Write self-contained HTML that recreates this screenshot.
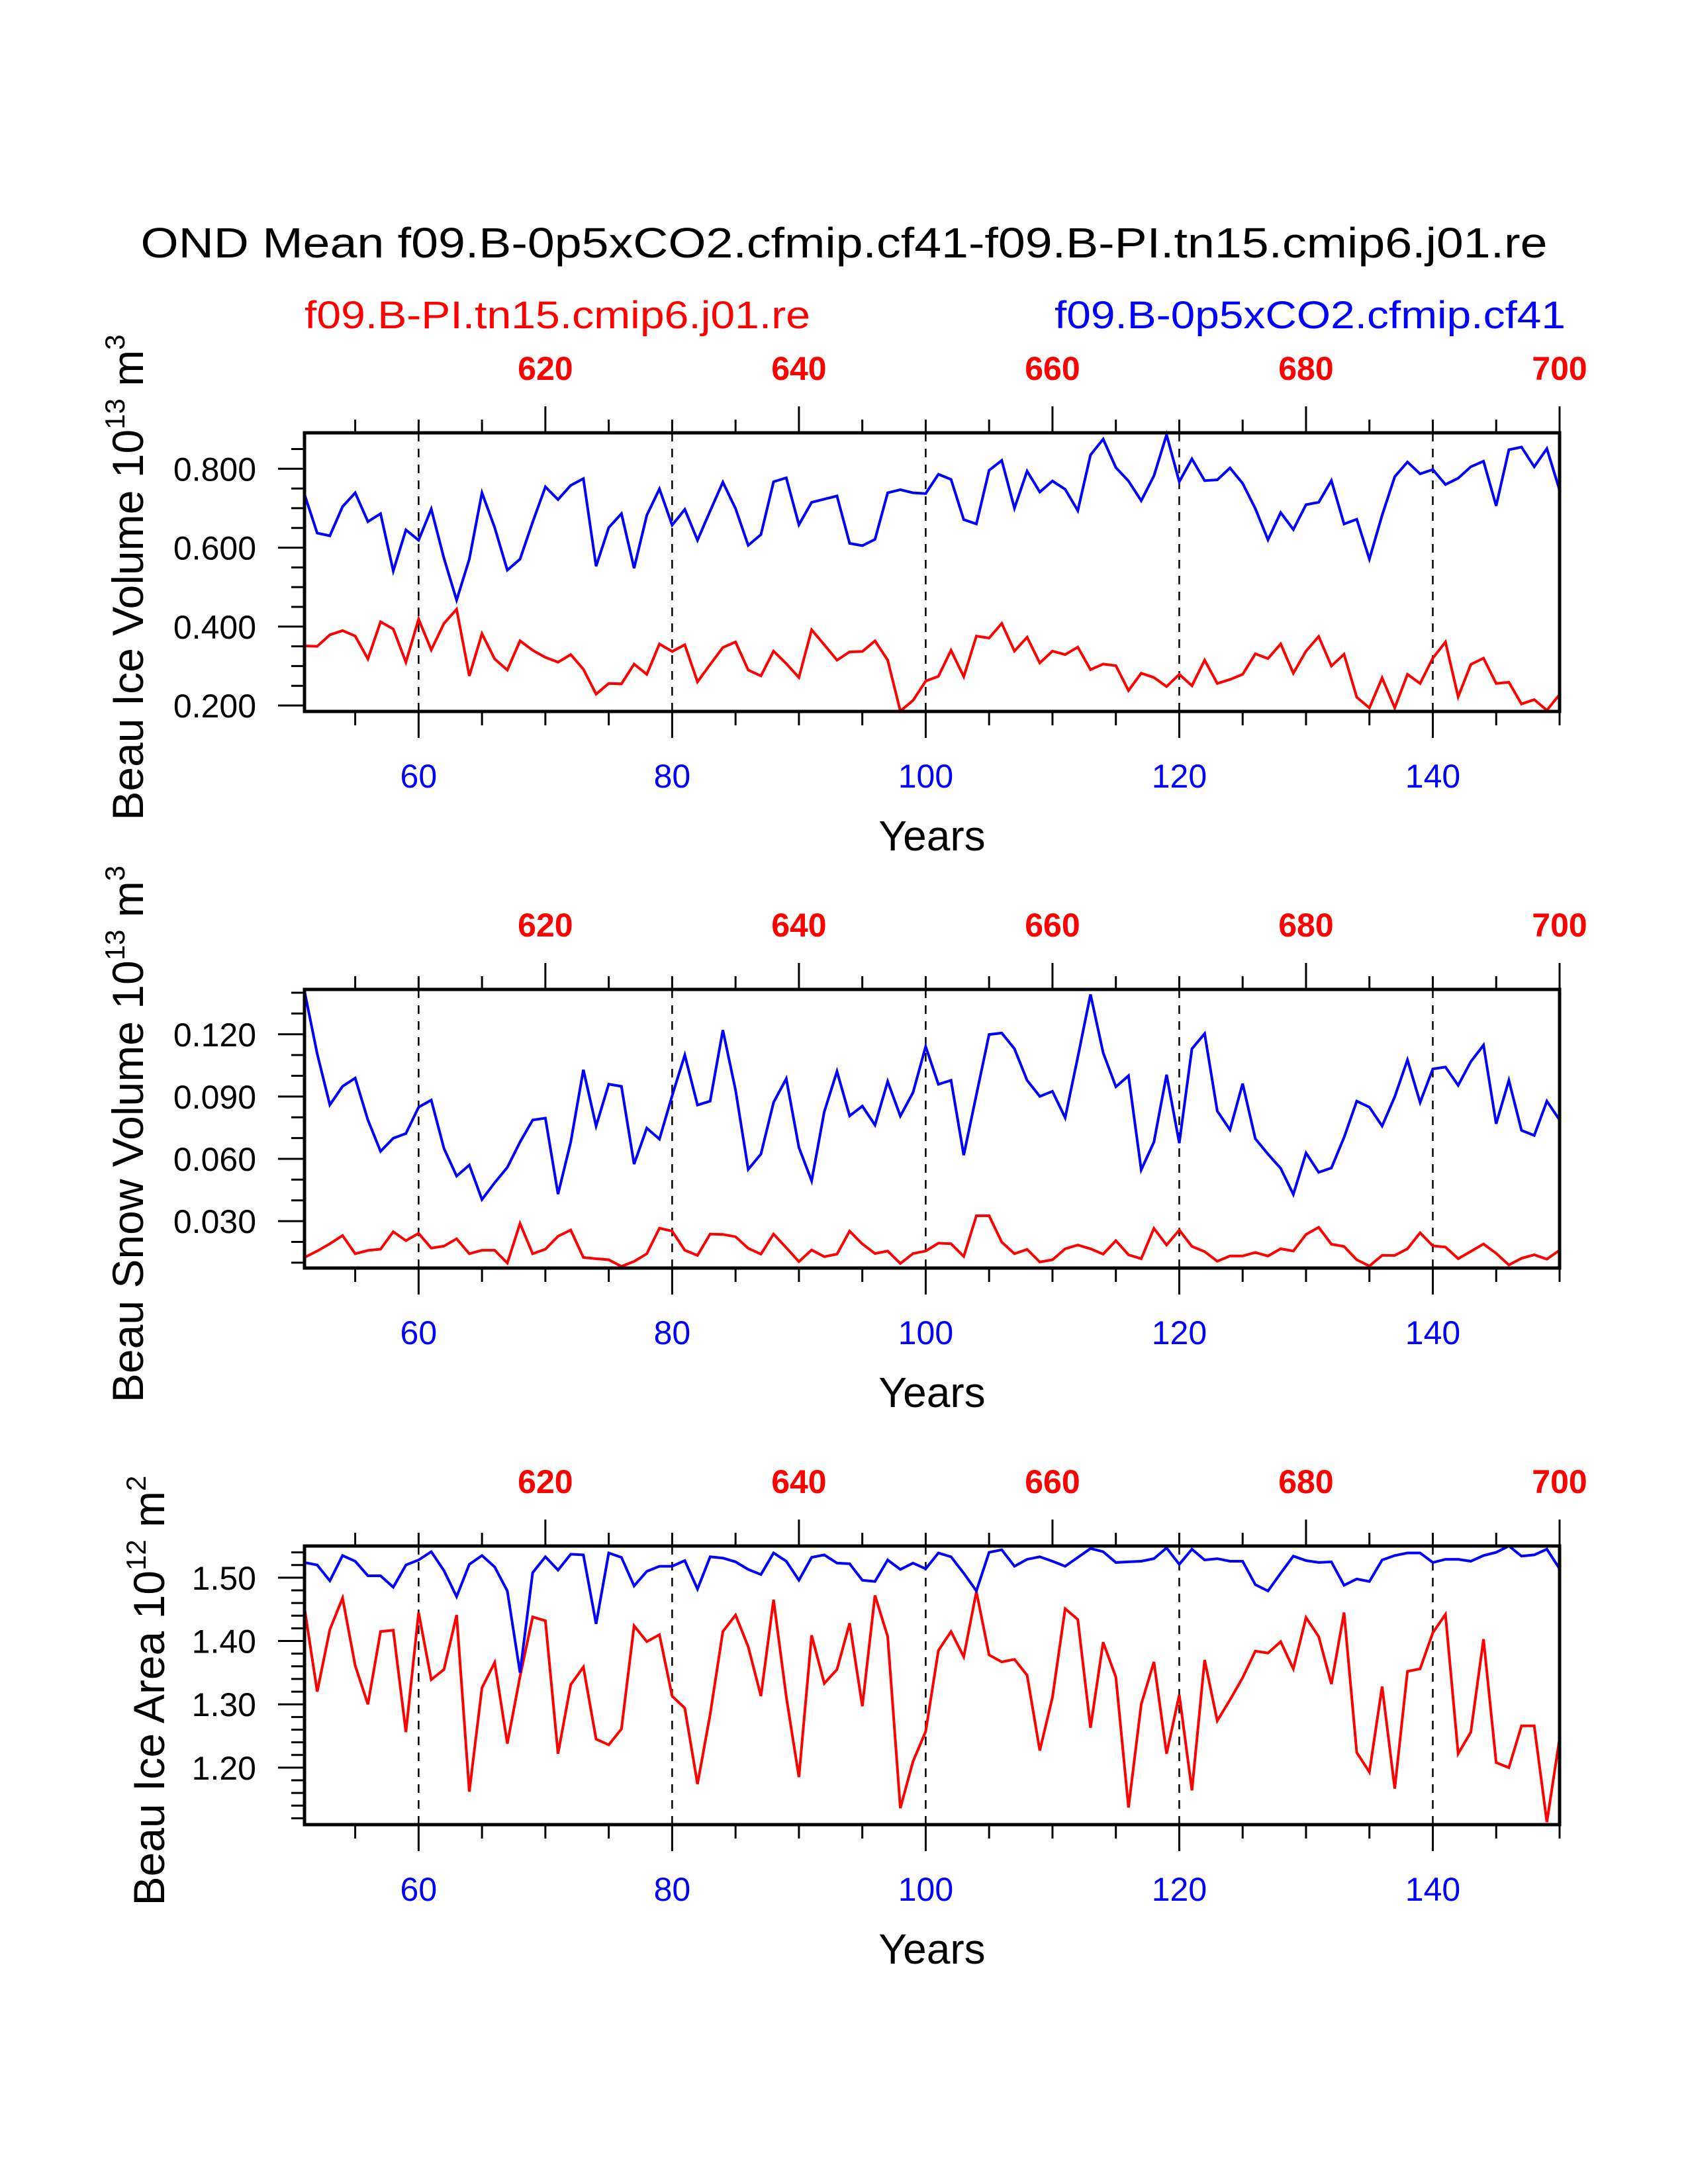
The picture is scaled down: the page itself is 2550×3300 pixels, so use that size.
<!DOCTYPE html>
<html><head><meta charset="utf-8"><style>
html,body{margin:0;padding:0;background:#fff;}
svg{display:block;font-family:"Liberation Sans",Arial,sans-serif;}
</style></head><body>
<svg id="chart" width="2550" height="3300" viewBox="0 0 2550 3300" xmlns="http://www.w3.org/2000/svg">
<rect width="2550" height="3300" fill="#fff"/>
<text x="1275" y="389" font-size="64" text-anchor="middle" textLength="2125" lengthAdjust="spacingAndGlyphs">OND Mean f09.B-0p5xCO2.cfmip.cf41-f09.B-PI.tn15.cmip6.j01.re</text>
<text x="460" y="496" font-size="58" fill="#ff0000" textLength="764" lengthAdjust="spacingAndGlyphs">f09.B-PI.tn15.cmip6.j01.re</text>
<text x="2365" y="496" font-size="58" fill="#0000ff" text-anchor="end" textLength="772" lengthAdjust="spacingAndGlyphs">f09.B-0p5xCO2.cfmip.cf41</text>
<g id="panels"></g>
</svg>
<script>
const years = [];
for (let y = 51; y <= 150; y++) years.push(y);
const bottomTickLabels = ["60","80","100","120","140"];
const topTickLabels = ["620","640","660","680","700"];

const iceVolBlue = [0.735,0.637,0.630,0.704,0.739,0.666,0.686,0.541,0.645,0.619,0.698,0.573,0.467,0.571,0.739,0.651,0.543,0.571,0.665,0.754,0.722,0.758,0.775,0.553,0.651,0.686,0.548,0.682,0.749,0.657,0.697,0.619,0.693,0.766,0.699,0.606,0.633,0.767,0.777,0.658,0.715,0.723,0.731,0.611,0.605,0.621,0.739,0.747,0.739,0.737,
0.786,0.773,0.671,0.660,0.796,0.821,0.700,0.794,0.741,0.769,0.748,0.694,0.835,0.875,0.803,0.769,0.719,0.782,0.886,0.767,0.825,0.770,0.772,0.802,0.763,0.699,0.620,0.689,0.646,0.709,0.715,0.770,0.660,0.672,0.571,0.682,0.780,0.817,0.787,0.798,0.760,0.776,0.805,0.819,0.706,0.848,0.855,0.805,0.851,0.746];
const iceVolRed = [0.351,0.350,0.379,0.390,0.376,0.318,0.412,0.394,0.310,0.419,0.341,0.408,0.444,0.275,0.382,0.318,0.290,0.364,0.340,0.322,0.310,0.329,0.292,0.229,0.256,0.255,0.305,0.279,0.356,0.337,0.354,0.260,0.304,0.347,0.361,0.290,0.275,0.338,0.306,0.271,0.392,0.354,0.315,0.336,0.337,0.364,0.315,0.186,0.213,0.262,
0.274,0.340,0.273,0.376,0.371,0.408,0.338,0.373,0.308,0.338,0.329,0.348,0.291,0.305,0.301,0.238,0.282,0.271,0.248,0.279,0.250,0.315,0.256,0.266,0.279,0.331,0.319,0.356,0.282,0.338,0.375,0.300,0.330,0.221,0.194,0.270,0.194,0.279,0.256,0.320,0.361,0.222,0.304,0.320,0.256,0.259,0.204,0.215,0.188,0.228];
const snowBlue = [0.1408,0.1106,0.0860,0.0949,0.0989,0.0787,0.0636,0.0699,0.0722,0.0849,0.0883,0.0650,0.0517,0.0570,0.0404,0.0485,0.0559,0.0681,0.0787,0.0796,0.0430,0.0681,0.1029,0.0758,0.0960,0.0949,0.0575,0.0748,0.0695,0.0904,0.1100,0.0859,0.0878,0.1220,0.0931,0.0549,0.0623,0.0872,0.0986,0.0655,0.0494,0.0827,0.1021,0.0807,0.0854,0.0763,0.0973,0.0806,0.0920,0.1141,
0.0959,0.0978,0.0618,0.0909,0.1199,0.1206,0.1130,0.0978,0.0901,0.0925,0.0798,0.1090,0.1392,0.1111,0.0947,0.1000,0.0547,0.0681,0.1005,0.0676,0.1130,0.1203,0.0830,0.0740,0.0962,0.0697,0.0623,0.0554,0.0429,0.0628,0.0535,0.0556,0.0703,0.0878,0.0849,0.0758,0.0899,0.1077,0.0872,0.1033,0.1042,0.0954,0.1068,0.1148,0.0769,0.0978,0.0737,0.0713,0.0878,0.0787];
const snowRed = [0.0125,0.0156,0.0191,0.0231,0.0143,0.0159,0.0165,0.0249,0.0206,0.0241,0.0170,0.0180,0.0215,0.0143,0.0160,0.0160,0.0098,0.0289,0.0143,0.0165,0.0227,0.0257,0.0125,0.0119,0.0114,0.0082,0.0106,0.0143,0.0266,0.0252,0.0160,0.0135,0.0238,0.0236,0.0225,0.0169,0.0141,0.0238,0.0172,0.0105,0.0161,0.0129,0.0141,0.0252,0.0190,0.0144,0.0156,0.0096,0.0144,0.0156,
0.0194,0.0191,0.0130,0.0326,0.0326,0.0199,0.0143,0.0164,0.0103,0.0114,0.0167,0.0185,0.0167,0.0141,0.0206,0.0138,0.0119,0.0265,0.0185,0.0257,0.0178,0.0153,0.0107,0.0132,0.0132,0.0149,0.0132,0.0167,0.0156,0.0236,0.0270,0.0189,0.0178,0.0114,0.0084,0.0135,0.0135,0.0167,0.0244,0.0181,0.0175,0.0119,0.0154,0.0190,0.0145,0.0089,0.0121,0.0138,0.0117,0.0160];
const areaBlue = [1.524,1.520,1.495,1.535,1.526,1.503,1.503,1.485,1.520,1.528,1.541,1.511,1.470,1.521,1.535,1.517,1.479,1.350,1.508,1.533,1.512,1.537,1.536,1.427,1.539,1.532,1.487,1.510,1.518,1.518,1.527,1.482,1.533,1.531,1.525,1.513,1.505,1.539,1.526,1.496,1.532,1.536,1.523,1.522,1.496,1.494,1.528,1.513,1.523,1.514,
1.539,1.533,1.507,1.479,1.540,1.544,1.518,1.529,1.533,1.526,1.518,1.532,1.546,1.541,1.524,1.525,1.526,1.530,1.547,1.521,1.545,1.528,1.530,1.526,1.526,1.489,1.479,1.507,1.534,1.527,1.524,1.525,1.488,1.498,1.494,1.528,1.535,1.539,1.539,1.524,1.529,1.529,1.526,1.535,1.540,1.550,1.534,1.536,1.545,1.514];
const areaRed = [1.452,1.320,1.418,1.468,1.361,1.300,1.415,1.417,1.256,1.445,1.339,1.355,1.441,1.162,1.326,1.366,1.238,1.344,1.438,1.432,1.222,1.331,1.359,1.245,1.236,1.261,1.424,1.399,1.410,1.313,1.294,1.174,1.284,1.415,1.441,1.391,1.313,1.465,1.312,1.185,1.409,1.333,1.355,1.428,1.297,1.472,1.407,1.136,1.210,1.257,
1.385,1.415,1.375,1.478,1.378,1.367,1.371,1.346,1.227,1.311,1.451,1.434,1.263,1.398,1.343,1.137,1.300,1.367,1.222,1.315,1.164,1.370,1.274,1.307,1.342,1.384,1.381,1.399,1.356,1.437,1.407,1.332,1.445,1.224,1.193,1.328,1.167,1.352,1.356,1.413,1.442,1.222,1.256,1.403,1.208,1.200,1.266,1.266,1.114,1.246];

const yTickLabelsVol = ["0.200","0.400","0.600","0.800"];
const yTickLabelsSnow = ["0.030","0.060","0.090","0.120"];
const yTickLabelsArea = ["1.20","1.30","1.40","1.50"];

const NS = "http://www.w3.org/2000/svg";
const root = document.getElementById("panels");
const X0 = 460, X1 = 2356, XMIN = 51, XMAX = 150;
function xScale(v){ return X0 + (v - XMIN) / (XMAX - XMIN) * (X1 - X0); }
function mk(tag, attrs, parent){
  const e = document.createElementNS(NS, tag);
  for (const k in attrs) e.setAttribute(k, attrs[k]);
  (parent || root).appendChild(e);
  return e;
}

const panels = [
  {key:"ice-volume", top:654, ymin:0.185, ymax:0.891, minorStep:0.05, ticks:yTickLabelsVol, blue:iceVolBlue, red:iceVolRed, title:["Beau Ice Volume 10","13"," m","3"], tx:193},
  {key:"snow-volume", top:1495, ymin:0.00741, ymax:0.1416, minorStep:0.01, ticks:yTickLabelsSnow, blue:snowBlue, red:snowRed, title:["Beau Snow Volume 10","13"," m","3"], tx:193},
  {key:"ice-area", top:2336, ymin:1.110, ymax:1.550, minorStep:0.02, ticks:yTickLabelsArea, blue:areaBlue, red:areaRed, title:["Beau Ice Area 10","12"," m","2"], tx:225}
];

panels.forEach(function(p){
  const T = p.top, B = p.top + 421;
  const g = mk("g", {});
  
  
  function yScale(v){ return B - (v - p.ymin) / (p.ymax - p.ymin) * (B - T); }

  bottomTickLabels.forEach(function(lbl){
    const x = xScale(+lbl);
    const l = mk("line", {x1:x, x2:x, y1:T, y2:B, stroke:"#000", "stroke-width":2.5, "stroke-dasharray":"13,11"}, g);
    
    
  });

  function drawSeries(vals, color, nm){
    const pts = vals.map(function(v,i){ return xScale(years[i]).toFixed(1) + "," + yScale(v).toFixed(1); }).join(" ");
    const pl = mk("polyline", {points:pts, fill:"none", stroke:color, "stroke-width":4, "stroke-linejoin":"miter"}, g);
    
    
  }
  drawSeries(p.red, "#ff0000", p.key + "-red-line");
  drawSeries(p.blue, "#0000ff", p.key + "-blue-line");

  const fr = mk("rect", {x:X0, y:T, width:X1-X0, height:B-T, fill:"none", stroke:"#000", "stroke-width":5}, g);
  
  

  for (let yr = 55; yr <= 150; yr += 5) {
    const x = xScale(yr);
    const majB = (yr % 20 === 0);
    const tb = mk("line", {x1:x, x2:x, y1:B, y2:B + (majB ? 40 : 21), stroke:"#000", "stroke-width":3}, g);
    
    
    const majT = ((yr - 70) % 20 === 0 && yr >= 70);
    const tt = mk("line", {x1:x, x2:x, y1:T, y2:T - (majT ? 40 : 20), stroke:"#000", "stroke-width":3}, g);
    
    
  }
  bottomTickLabels.forEach(function(lbl){
    const t = mk("text", {x:xScale(+lbl), y:B + 115, "font-size":50, fill:"#0000ff", "text-anchor":"middle"}, g);
    t.textContent = lbl;
    
    
  });
  topTickLabels.forEach(function(lbl){
    const t = mk("text", {x:xScale(+lbl - 550), y:T - 80, "font-size":50, "font-weight":"bold", fill:"#ff0000", "text-anchor":"middle"}, g);
    t.textContent = lbl;
    
    
  });

  const startMinor = Math.ceil(p.ymin / p.minorStep - 1e-6);
  for (let k = startMinor; k * p.minorStep <= p.ymax + 1e-9; k++) {
    const v = k * p.minorStep;
    const y = yScale(v);
    const isMaj = p.ticks.some(function(s){ return Math.abs(+s - v) < 1e-6; });
    const tl = mk("line", {x1:X0 - (isMaj ? 40 : 20), x2:X0, y1:y, y2:y, stroke:"#000", "stroke-width":3}, g);
    
    
  }
  p.ticks.forEach(function(lbl){
    const t = mk("text", {x:387, y:yScale(+lbl) + 18, "font-size":50, "text-anchor":"end"}, g);
    t.textContent = lbl;
    
    
  });

  const xt = mk("text", {x:1408, y:B + 210, "font-size":64, "text-anchor":"middle"}, g);
  xt.textContent = "Years";
  
  

  const cy = (T + B) / 2 + 8;
  const yt = mk("text", {x:0, y:0, "font-size":66, "text-anchor":"middle", transform:"translate(" + (p.tx + 23) + "," + cy + ") rotate(-90)"}, g);
  
  
  const s1 = mk("tspan", {}, yt); s1.textContent = p.title[0];
  const s2 = mk("tspan", {dy:-28, "font-size":42}, yt); s2.textContent = p.title[1];
  const s3 = mk("tspan", {dy:28}, yt); s3.textContent = p.title[2];
  const s4 = mk("tspan", {dy:-28, "font-size":42}, yt); s4.textContent = p.title[3];
});
</script>
</body></html>
